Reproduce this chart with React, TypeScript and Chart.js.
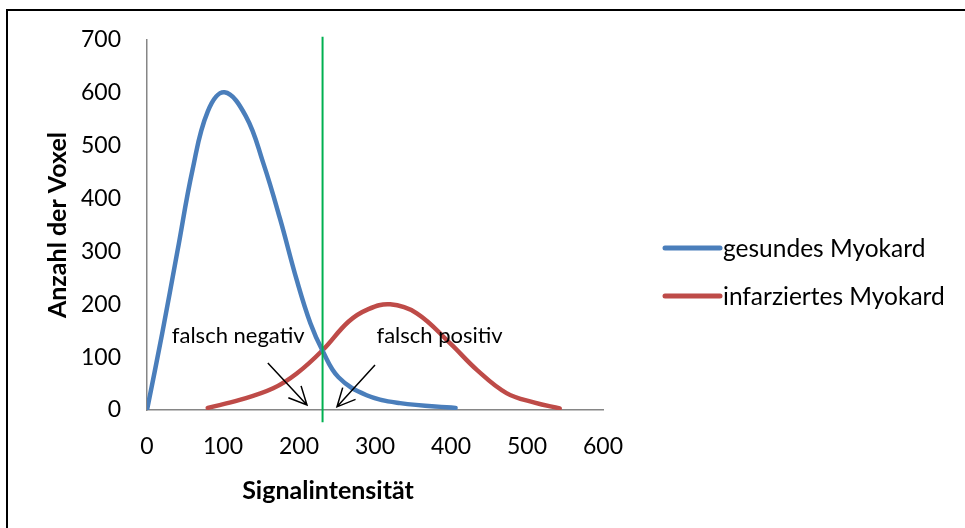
import React, { useEffect, useRef } from "react";
import { Chart, registerables } from "chart.js";

Chart.register(...registerables);

// ---- data ----
const seriesNames = ["gesundes Myokard", "infarziertes Myokard"];
const healthyX = [0, 20, 40, 60, 80, 102, 130, 153, 175, 197, 215, 231, 252, 289, 333, 406];
const healthyY = [0, 145, 300, 455, 565, 601, 556, 467, 362, 246, 164, 112, 62, 28, 13, 4];
const infarctX = [80, 122, 166, 197, 231, 265, 290, 320, 355, 399, 434, 473, 510, 543];
const infarctY = [4, 19, 41, 69, 113, 167, 190, 200, 183, 126, 76, 32, 14, 3];
const thresholdX = 231;
const thresholdRange = [-23, 706];
const annotationTexts = ["falsch negativ", "falsch positiv"];
const annotationPos = [[120, 127], [385, 127]];
const arrowFrom = [[159, 89], [300, 85]];
const arrowTo = [[210.5, 9.5], [250, 6]];
const xTitle = "Signalintensität";
const yTitle = "Anzahl der Voxel";
const xTicks = [0, 600, 100];
const yTicks = [0, 700, 100];

const FONT = "Lato, 'Open Sans', sans-serif";
const COLORS = ["#4A7EBB", "#BE4B48"];

const overlay = {
  id: "overlay",
  afterDatasetsDraw(chart: any) {
    const ctx = chart.ctx;
    const xs = chart.scales.x;
    const ys = chart.scales.y;
    const ca = chart.chartArea;
    ctx.save();
    // threshold line
    ctx.strokeStyle = "#00B050";
    ctx.lineWidth = 2;
    ctx.beginPath();
    const gx = xs.getPixelForValue(thresholdX);
    ctx.moveTo(gx, ys.getPixelForValue(thresholdRange[1]));
    ctx.lineTo(gx, ys.getPixelForValue(thresholdRange[0]));
    ctx.stroke();
    // annotation texts
    ctx.fillStyle = "#000";
    ctx.font = `22px ${FONT}`;
    ctx.textAlign = "center";
    ctx.textBaseline = "alphabetic";
    annotationTexts.forEach((t, i) => {
      ctx.fillText(t, xs.getPixelForValue(annotationPos[i][0]), ys.getPixelForValue(annotationPos[i][1]));
    });
    // arrows
    ctx.strokeStyle = "#000";
    ctx.lineWidth = 1.5;
    arrowFrom.forEach((f, i) => {
      const x1 = xs.getPixelForValue(f[0]);
      const y1 = ys.getPixelForValue(f[1]);
      const x2 = xs.getPixelForValue(arrowTo[i][0]);
      const y2 = ys.getPixelForValue(arrowTo[i][1]);
      const ang = Math.atan2(y2 - y1, x2 - x1);
      const L = 20;
      const spread = 0.45;
      ctx.beginPath();
      ctx.moveTo(x1, y1);
      ctx.lineTo(x2, y2);
      ctx.moveTo(x2 - L * Math.cos(ang - spread), y2 - L * Math.sin(ang - spread));
      ctx.lineTo(x2, y2);
      ctx.lineTo(x2 - L * Math.cos(ang + spread), y2 - L * Math.sin(ang + spread));
      ctx.stroke();
    });
    // x axis title (left of centre, as in the original)
    ctx.font = `bold 25px ${FONT}`;
    ctx.textAlign = "center";
    ctx.textBaseline = "middle";
    ctx.fillText(xTitle, ca.left + 181, 491);
    // legend
    const lx = ca.right + 62;
    ctx.font = `24.5px ${FONT}`;
    ctx.textAlign = "left";
    ctx.textBaseline = "middle";
    chart.data.datasets.forEach((ds: any, i: number) => {
      const y = 248 + i * 48;
      ctx.strokeStyle = ds.borderColor;
      ctx.lineWidth = 5;
      ctx.lineCap = "round";
      ctx.beginPath();
      ctx.moveTo(lx, y);
      ctx.lineTo(lx + 55, y);
      ctx.stroke();
      ctx.fillStyle = "#000";
      ctx.fillText(ds.label, lx + 58, y + 1);
    });
    // frame
    ctx.strokeStyle = "#000";
    ctx.lineWidth = 2;
    ctx.lineCap = "butt";
    ctx.beginPath();
    ctx.moveTo(7, 540);
    ctx.lineTo(7, 10);
    ctx.lineTo(980, 10);
    ctx.stroke();
    ctx.restore();
  },
};

export default function App() {
  const ref = useRef<HTMLCanvasElement>(null);
  useEffect(() => {
    const canvas = ref.current!;
    const chart = new Chart(canvas, {
      type: "line",
      data: {
        datasets: [
          {
            label: seriesNames[0],
            data: healthyX.map((x, i) => ({ x, y: healthyY[i] })),
            borderColor: COLORS[0],
            borderWidth: 4.5,
            pointRadius: 0,
            tension: 0.4,
            borderCapStyle: "round",
            fill: false,
          },
          {
            label: seriesNames[1],
            data: infarctX.map((x, i) => ({ x, y: infarctY[i] })),
            borderColor: COLORS[1],
            borderWidth: 4.5,
            pointRadius: 0,
            tension: 0.4,
            borderCapStyle: "round",
            fill: false,
          },
        ],
      },
      options: {
        animation: false,
        responsive: false,
        layout: { padding: { left: 0, right: 362, top: 40, bottom: 0 } },
        plugins: { legend: { display: false }, tooltip: { enabled: false } },
        scales: {
          x: {
            type: "linear",
            min: xTicks[0],
            max: xTicks[1],
            ticks: { stepSize: xTicks[2], padding: 23, color: "#000", font: { family: FONT, size: 23 } },
            grid: { display: false, drawTicks: false },
            border: { color: "#868686", width: 1.5 },
            title: { display: false },
            afterFit: (s: any) => { s.height = 118; },
          },
          y: {
            type: "linear",
            min: yTicks[0],
            max: yTicks[1],
            ticks: { stepSize: yTicks[2], padding: 26, color: "#000", font: { family: FONT, size: 23 } },
            grid: { display: false, drawTicks: false },
            border: { color: "#868686", width: 1.5 },
            title: {
              display: true,
              text: yTitle,
              color: "#000",
              font: { family: FONT, size: 25, weight: "bold" },
              padding: { top: 43, bottom: 43 },
            },
            afterFit: (s: any) => { s.width = 147; },
          },
        },
      },
      plugins: [overlay],
    });
    return () => chart.destroy();
  }, []);
  return (
    <div style={{ position: "fixed", left: 0, top: 0, width: 965, height: 528, background: "#fff" }}>
      <canvas ref={ref} width={965} height={528} />
    </div>
  );
}
